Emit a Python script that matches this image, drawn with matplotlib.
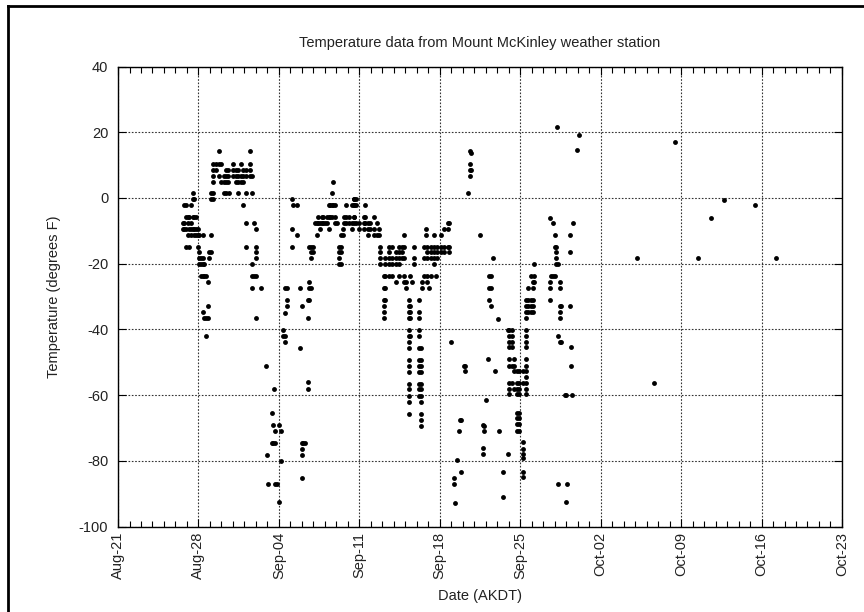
import datetime
import numpy as np
import matplotlib
matplotlib.use('Agg')
import matplotlib.pyplot as plt
import matplotlib.dates as mdates
from matplotlib.lines import Line2D

plt.rcParams['font.family'] = ['Liberation Sans', 'DejaVu Sans']
plt.rcParams['axes.unicode_minus'] = False

# Observations grouped by time column: days after Aug-21, temps in deg F
col_days = [
    5.63, 5.77, 5.92, 6.07, 6.21, 6.36, 6.5, 6.65, 6.8, 6.94,
    7.09, 7.23, 7.38, 7.52, 7.67, 7.82, 7.96, 8.11,
    8.25, 8.55, 8.77, 8.98, 9.19, 9.42, 9.56, 9.7, 10.0, 10.24, 10.44,
    10.73, 10.87, 11.16, 11.45, 11.64, 11.8, 12.05, 12.4,
    12.9, 12.97, 13.06, 13.36, 13.5, 13.56, 13.65, 13.8, 14.0, 14.15,
    14.35, 14.5, 14.67,
    15.1, 15.25, 15.55, 15.84, 15.98, 16.1, 16.27, 16.5, 16.66, 16.8, 16.97,
    17.15, 17.3, 17.44, 17.58, 17.73, 17.88, 18.02, 18.17, 18.32, 18.46,
    18.61, 18.7, 18.9, 19.05, 19.19, 19.4, 19.57, 19.69, 19.86, 20.06,
    20.36, 20.5, 20.56, 20.73, 20.94, 21.37, 21.52, 21.72, 21.96, 22.25,
    22.54, 22.68,
    22.83, 23.12, 23.27, 23.56, 23.85, 24.15, 24.44, 24.73, 24.87, 25.02,
    25.28, 25.45, 25.6, 25.75, 26.2, 26.4, 26.48, 26.63, 26.77, 26.92,
    27.07, 27.21, 27.5, 27.65, 27.8, 28.08, 28.37, 28.72, 28.81,
    28.96, 29.22, 29.3, 29.54, 29.68, 29.75, 29.83, 30.12, 30.18,
    30.45, 30.6, 30.7,
    31.52, 31.73, 31.87, 32.0, 32.17, 32.28, 32.45, 32.6, 32.8, 33.04,
    33.17, 33.47, 33.9,
    34.06, 34.26, 34.5, 34.73, 34.93, 35.23, 35.52, 35.67, 35.96, 36.1, 36.19,
    37.56, 37.7, 37.85, 38.0, 38.09, 38.15, 38.23, 38.29, 38.44, 38.58,
    38.87, 39.02, 39.1, 39.31, 39.4, 39.52, 39.6, 39.9, 40.09,
    45.14, 46.66, 48.5, 50.48, 51.56, 52.73, 55.41, 57.25,
]

col_temps = [
    [-7.6, -9.4], [-2.2, -7.6, -9.4], [-2.2, -5.8, -9.4, -14.8],
    [-5.8, -7.6, -11.2], [-5.8, -9.4, -14.8], [-2.2, -7.6, -9.4, -11.2],
    [1.4, -0.4, -5.8, -9.4], [-0.4, -5.8, -9.4, -11.2], [-5.8, -9.4, -11.2],
    [-9.4, -11.2, -14.8],
    [-11.2, -16.6, -18.4, -20.2], [-18.4, -20.2, -23.8],
    [-11.2, -18.4, -20.2, -23.8, -34.7], [-20.2, -23.8, -36.4],
    [-23.8, -36.4, -42.0], [-25.6, -32.9, -36.4], [-16.6, -18.4],
    [1.4, -0.4, -11.2, -16.6],
    [10.4, 8.6, 6.8, 5.0, 1.4, -0.4], [10.4, 8.6], [14.4, 10.4, 6.8],
    [10.4, 5.0], [6.8, 5.0, 1.4], [8.6, 6.8, 5.0, 1.4], [8.6, 6.8, 5.0],
    [1.4], [10.4, 8.6, 6.8], [8.6, 6.8, 5.0], [8.6, 6.8, 5.0, 1.4],
    [10.4, 6.8, 5.0], [8.6, 6.8, 5.0, -2.2], [8.6, 6.8, 1.4, -7.6, -14.8],
    [14.4, 10.4, 8.6, 6.8], [6.8, 1.4, -20.2, -23.8, -27.4], [-7.6, -23.8],
    [-9.4, -14.8, -16.6, -18.4, -23.8, -36.4], [-27.4],
    [-51.0], [-78.3], [-87.0], [-65.4, -74.7], [-69.0, -74.7],
    [-58.0], [-71.0, -74.7, -87.0], [-87.0], [-69.0, -92.5], [-71.0, -80.0],
    [-40.2, -42.0], [-27.4, -35.0, -42.0, -43.8], [-27.4, -31.0, -33.0],
    [-0.4, -9.4, -14.8], [-2.2], [-2.2, -11.2], [-27.4, -45.7],
    [-33.0, -74.7, -76.5, -78.3, -85.2], [-74.7], [-74.7],
    [-31.2, -36.4, -56.0, -58.0], [-14.8, -25.6, -27.4, -31.2],
    [-14.8, -16.6, -18.4, -27.4], [-14.8, -16.6],
    [-7.6], [-7.6, -11.2], [-5.8, -7.6], [-7.6, -9.4], [-5.8, -7.6],
    [-5.8, -7.6], [-7.6], [-5.8, -7.6], [-2.2, -5.8, -9.4], [-2.2, -5.8],
    [1.4, -2.2, -5.8], [5.0, -2.2], [-2.2, -5.8, -7.6], [-7.6],
    [-14.8, -16.6, -18.4, -20.2], [-11.2, -14.8, -16.6, -20.2],
    [-9.4, -11.2], [-5.8, -7.6], [-2.2, -5.8, -7.6], [-5.8, -7.6],
    [-2.2, -7.6, -9.4], [-0.4, -2.2, -5.8], [-0.4, -2.2, -5.8, -7.6],
    [-0.4, -2.2, -7.6], [-7.6, -9.4], [-5.8, -7.6, -9.4],
    [-2.2, -5.8, -7.6], [-7.6, -9.4, -11.2], [-7.6, -9.4],
    [-5.8, -9.4, -11.2], [-7.6, -11.2], [-9.4, -11.2],
    [-14.8, -16.6, -18.4, -20.2],
    [-23.8, -27.4, -31.0, -33.0, -34.8, -36.6], [-18.4, -20.2, -23.8, -27.4, -31.0],
    [-14.8, -16.6, -18.4, -20.2, -23.8], [-14.8, -18.4, -20.2, -23.8],
    [-16.6, -18.4, -20.2, -25.6], [-14.8, -16.6, -18.4, -20.2, -23.8],
    [-14.8, -16.6, -18.4], [-11.2, -14.8, -18.4, -23.8, -25.6], [-25.6, -27.4],
    [-31.0, -32.8, -34.8, -36.6, -40.2, -42.0, -43.8, -45.6, -49.4, -51.0,
     -53.0, -56.5, -58.3, -60.2, -62.0, -65.7],
    [-23.8, -32.8, -34.8, -36.6, -42.0], [-25.6], [-14.8, -18.4, -20.2],
    [-31.0, -34.8, -36.6, -40.2, -42.0, -45.6, -49.4, -51.0, -53.0, -56.5,
     -58.3, -60.2],
    [-45.6, -49.4, -51.0, -53.0, -56.5, -58.3, -60.2, -62.0, -65.7, -67.5,
     -69.3],
    [-25.6, -27.4], [-14.8, -18.4, -23.8], [-9.4, -11.2],
    [-14.8, -16.6, -18.4, -23.8, -25.6], [-27.4], [-14.8, -16.6, -18.4, -23.8],
    [-11.2, -14.8, -16.6, -18.4, -20.2], [-23.8], [-14.8, -16.6, -18.4],
    [-11.2, -14.8, -16.6], [-9.4, -14.8, -16.6], [-7.6, -9.4, -14.8],
    [-7.6, -14.8, -16.6],
    [-43.7], [-85.2, -87.0], [-92.8], [-79.8], [-71.0], [-67.5],
    [-67.6, -83.5], [-51.3], [-51.0, -52.7],
    [1.4], [14.4, 10.4, 8.6, 6.8], [13.8, 8.6],
    [-11.2], [-69.0, -76.1, -78.0], [-69.3, -70.9], [-61.6], [-49.1],
    [-23.9, -27.5, -31.0], [-23.9, -27.5, -33.0], [-18.4], [-52.7], [-36.7],
    [-70.9], [-83.5, -91.0], [-40.2, -78.0],
    [-40.2, -41.9, -43.7, -45.5, -49.1, -51.0, -56.3, -58.1, -59.7],
    [-40.2, -41.9, -43.7, -45.5, -51.0, -56.3],
    [-49.1, -51.0, -52.7, -58.1],
    [-52.7, -56.3, -58.1, -59.7, -65.5, -67.0, -68.9, -70.8],
    [-52.7, -56.3, -58.1, -59.7, -65.5, -67.0, -68.9, -70.8],
    [-52.7, -56.3, -74.3, -76.4, -77.8, -79.3, -83.3, -85.0],
    [-31.0, -32.8, -34.6, -36.5, -40.2, -41.9, -43.7, -45.5, -49.1, -51.0,
     -52.7, -54.5, -56.3, -58.1, -59.7],
    [-27.4, -31.0, -32.8, -34.6], [-23.8, -31.0, -32.8, -34.6],
    [-25.6, -27.4, -31.0, -32.8, -34.6], [-20.2, -23.8, -25.6],
    [-6.0, -25.6, -27.4, -31.0], [-23.9], [-7.6, -23.9],
    [-11.2, -14.8, -23.9], [-14.8, -16.6], [-18.4, -20.2], [21.5],
    [-20.2, -41.9, -87.0], [-25.6, -27.4, -33.0, -34.8, -36.5, -43.7],
    [-33.0, -43.7], [-60.1], [-60.1, -92.5], [-87.0], [-11.2, -16.6, -33.0],
    [-45.5, -51.0], [-60.1], [-7.6], [14.6], [19.3],
    [-18.4], [-56.4], [17.1], [-18.4], [-6.0], [-0.5], [-2.2], [-18.4],
]

start = datetime.datetime(2006, 8, 21)
x_vals = []
y_vals = []
for d, temps in zip(col_days, col_temps):
    for t in temps:
        x_vals.append(mdates.date2num(start) + d)
        y_vals.append(t)

text_col = '#222222'
fig = plt.figure(figsize=(8.64, 6.12), dpi=100)
ax = fig.add_axes([0.1366, 0.1397, 0.8379, 0.7516])

ax.plot(x_vals, y_vals, 'o', color='black', markersize=3.5, markeredgewidth=0)

x0 = mdates.date2num(start)
ax.set_xlim(x0, x0 + 63)
ax.set_ylim(-100, 40)
ax.set_yticks(np.arange(-100, 41, 20))
ax.set_xticks([x0 + 7 * i for i in range(10)])
ax.xaxis.set_major_formatter(mdates.DateFormatter('%b-%d'))
ax.set_xticks([x0 + i for i in range(64)], minor=True)
ax.tick_params(axis='x', which='both', direction='in', top=True, labelrotation=90,
               labelsize=10.5, labelcolor=text_col)
ax.tick_params(axis='x', which='minor', length=4, width=0.8)
ax.tick_params(axis='x', which='major', length=6, width=0.8, pad=4)
ax.tick_params(axis='y', which='major', direction='in', right=True, length=6,
               width=0.8, labelsize=10.5, labelcolor=text_col, pad=7)
ax.grid(True, which='major', color='#333333', linestyle=(0, (1.5, 1.5)),
        linewidth=0.8)
for s in ax.spines.values():
    s.set_linewidth(1.0)

ax.set_title('Temperature data from Mount McKinley weather station',
             fontsize=10.5, pad=14, color=text_col)
ax.set_ylabel('Temperature (degrees F)', fontsize=10.5, color=text_col)
ax.yaxis.set_label_coords(-0.079, 0.5)
ax.set_xlabel('Date (AKDT)', fontsize=10.5, color=text_col)
ax.xaxis.set_label_coords(0.5, -0.136)

# partial frame around the figure (left and top edges)
fig.add_artist(Line2D([7.5 / 864, 7.5 / 864], [0, 1 - 6 / 612], color='black',
                      linewidth=2, transform=fig.transFigure))
fig.add_artist(Line2D([7.5 / 864, 1], [1 - 6 / 612, 1 - 6 / 612], color='black',
                      linewidth=2, transform=fig.transFigure))

fig.savefig('out.png', dpi=100)
